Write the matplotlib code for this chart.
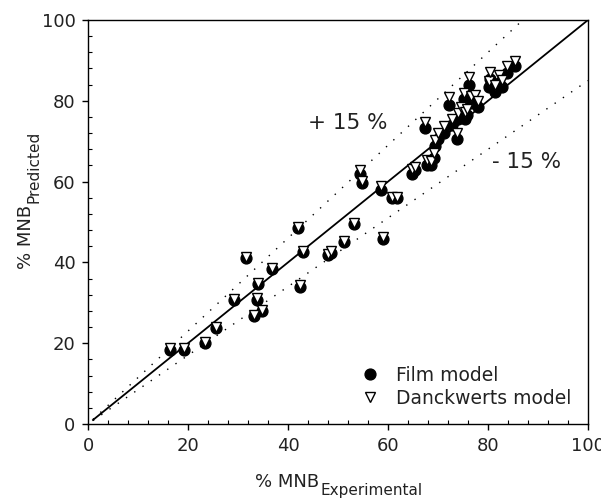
import matplotlib.pyplot as plt
from matplotlib.ticker import MultipleLocator

plt.rcParams['font.family'] = ['DejaVu Sans']

# % MNB experimental vs predicted (film model / Danckwerts model)
mnb_exp = [16.4, 19.2, 23.3, 25.5, 29.1, 31.5, 33.1, 33.7, 34.0, 34.8,
           36.7, 41.9, 42.4, 42.9, 47.9, 48.6, 51.1, 53.2, 54.4, 54.7,
           58.6, 58.9, 60.7, 61.7, 64.7, 65.3, 67.4, 67.7, 68.5, 69.1,
           69.4, 70.0, 71.2, 72.1, 72.8, 73.7, 74.0, 74.5, 75.1, 75.4,
           75.7, 76.1, 76.5, 77.3, 78.0, 80.1, 80.4, 81.4, 82.1, 82.8,
           83.7, 85.4]
mnb_film = [18.4, 18.4, 20.0, 23.7, 30.7, 41.0, 26.7, 30.8, 34.7, 27.9,
            38.3, 48.5, 34.0, 42.5, 41.9, 42.4, 45.0, 49.4, 61.9, 59.6,
            57.9, 45.9, 56.0, 56.0, 62.0, 62.8, 73.2, 64.2, 64.0, 65.8,
            68.8, 70.5, 72.0, 79.0, 74.0, 70.5, 75.5, 77.0, 80.5, 75.5,
            76.5, 84.0, 79.5, 80.0, 78.5, 83.3, 85.5, 82.3, 84.3, 83.5,
            87.0, 88.5]
mnb_danck = [18.7, 18.7, 20.3, 24.0, 31.0, 41.3, 27.0, 31.1, 35.0, 28.2,
             38.6, 48.8, 34.3, 42.8, 42.2, 42.7, 45.4, 49.8, 62.8, 60.2,
             58.8, 46.4, 56.3, 56.3, 63.0, 63.5, 74.8, 65.3, 65.0, 67.2,
             70.2, 72.0, 73.8, 81.0, 75.5, 72.0, 77.0, 78.5, 82.0, 77.2,
             78.0, 86.0, 81.2, 81.5, 80.0, 85.0, 87.2, 84.0, 86.4, 85.2,
             88.5, 89.8]

line_x = [1, 100]
upper_x = [1, 100 / 1.15]
lower_x = [1, 100]

W, H = 601, 498
fig = plt.figure(figsize=(W / 100, H / 100), dpi=100)
ax = fig.add_axes([88 / W, 1 - 424 / H, 500 / W, 404 / H])

ax.plot(line_x, line_x, color='black', lw=1.3)
ax.plot(upper_x, [v * 1.15 for v in upper_x], color='black', lw=1.0,
        linestyle=(0, (1, 6.2)))
ax.plot(lower_x, [v * 0.85 for v in lower_x], color='black', lw=1.0,
        linestyle=(0, (1, 6.2)))

ax.plot(mnb_exp, mnb_film, 'o', color='black', ms=7.8, ls='none',
        label='Film model')
ax.plot(mnb_exp, mnb_danck, 'v', mfc='white', mec='black', mew=1.0, ms=7.8,
        ls='none', label='Danckwerts model')

ax.text(51.9, 74.5, '+ 15 %', fontsize=15.5, ha='center', va='center',
        color='#222222')
ax.text(80.8, 64.8, '- 15 %', fontsize=15.5, ha='left', va='center',
        color='#222222')

ax.set_xlim(0, 100)
ax.set_ylim(0, 100)
ax.xaxis.set_major_locator(MultipleLocator(20))
ax.yaxis.set_major_locator(MultipleLocator(20))
ax.xaxis.set_minor_locator(MultipleLocator(4))
ax.yaxis.set_minor_locator(MultipleLocator(4))
ax.tick_params(which='major', direction='out', length=4, width=1, pad=5,
               labelsize=13, labelcolor='#222222')
ax.tick_params(which='minor', direction='in', length=3, width=0.8)
for s in ax.spines.values():
    s.set_linewidth(1.0)

# axis titles with subscripts, placed in figure pixels
fig.text(255 / W, 1 - 487 / H, '% MNB', fontsize=13, ha='left',
         va='baseline', color='#222222')
fig.text(321 / W, 1 - 495 / H, 'Experimental', fontsize=11, ha='left',
         va='baseline', color='#222222')
fig.text(31 / W, 1 - 269 / H, '% MNB', fontsize=13, ha='left',
         va='baseline', rotation=90, rotation_mode='anchor', color='#222222')
fig.text(39 / W, 1 - 203 / H, 'Predicted', fontsize=11, ha='left',
         va='baseline', rotation=90, rotation_mode='anchor', color='#222222')

ax.legend(loc='lower right', bbox_to_anchor=(0.985, 0.017), frameon=False,
          fontsize=13.5, handlelength=2, handletextpad=0.4, borderpad=0,
          labelspacing=0.2, labelcolor='#222222')

fig.savefig('out.png', dpi=100)
